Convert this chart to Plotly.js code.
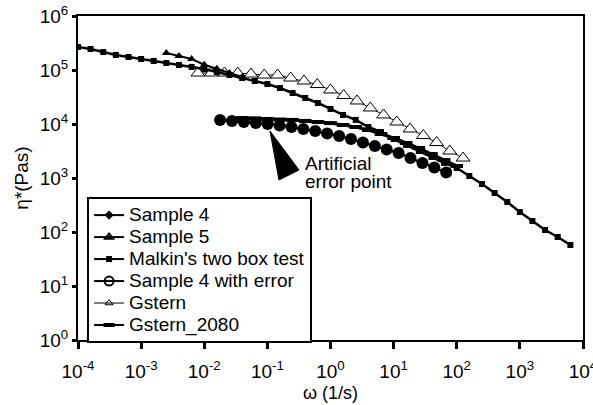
<!DOCTYPE html>
<html><head><meta charset="utf-8">
<script src="https://cdn.plot.ly/plotly-3.0.1.min.js"></script>
<style>html,body{margin:0;padding:0;background:#fff}#chart{width:593px;height:405px}</style>
</head><body><div id="chart"></div>
<script>
const FONT = 'Liberation Sans, Arial, Helvetica, sans-serif';

// Axis ticks
const xTickVals = [1e-4, 1e-3, 1e-2, 1e-1, 1, 1e1, 1e2, 1e3, 1e4];
const xTickText = ['10<sup>-4</sup>','10<sup>-3</sup>','10<sup>-2</sup>','10<sup>-1</sup>','10<sup>0</sup>','10<sup>1</sup>','10<sup>2</sup>','10<sup>3</sup>','10<sup>4</sup>'];
const yTickVals = [1, 1e1, 1e2, 1e3, 1e4, 1e5, 1e6];
const yTickText = ['10<sup>0</sup>','10<sup>1</sup>','10<sup>2</sup>','10<sup>3</sup>','10<sup>4</sup>','10<sup>5</sup>','10<sup>6</sup>'];

// Malkin's two box test
const malkinW = [0.0001,0.000158,0.000251,0.000398,0.000631,0.001,0.00158,0.00251,0.00398,0.00631,0.01,0.0158,0.0251,0.0398,0.0631,0.1,0.158,0.251,0.398,0.631,1,1.58,2.51,3.98,6.31,10,15.8,25.1,39.8,63.1,100,158,251,398,631,1000,1580,2510,3980,6310];
const malkinEta = [267000,245000,215000,190000,174000,160000,147000,135000,124000,114000,104000,91800,80800,71100,62500,55000,46400,37500,30300,24500,19000,14700,11900,8800,7110,5270,4080,3160,2450,1900,1530,1090,774,527,360,234,160,109,80.7,57.4];

// Sample 5
const s5W = [0.00251,0.00398,0.00631,0.01,0.0158,0.0251,0.0398];
const s5Eta = [207000,182000,160000,125000,105000,88000,74000];

// Gstern
const gsW = [0.00794,0.0129,0.0209,0.0339,0.055,0.0891,0.145,0.234,0.380,0.617,1.0,1.62,2.63,4.27,6.92,11.2,18.2,29.5,47.9,77.6,126];
const gsEta = [87900,87900,87900,87900,84300,80700,80700,71100,62500,53800,42700,33700,26700,19800,14700,10900,8080,6120,4540,3160,2340];

// Sample 4 with error
const s4eW = [0.0178,0.0275,0.0424,0.0655,0.101,0.156,0.241,0.372,0.574,0.885,1.37,2.11,3.26,5.04,7.76,12.0,18.5,28.6,44.2,68.1];
const s4eEta = [11860,11370,10890,10440,10000,9380,8790,8070,7410,6670,5990,5270,4540,3920,3370,2910,2340,1900,1560,1270];

// Sample 4
const s4W = [0.0178,0.0275,0.0424,0.0655,0.101,0.156,0.241,0.372,0.574,0.885,1.37,2.11,3.26,5.04,7.76,12.0,18.5,28.6,44.2,68.1];
const s4Eta = [11860,11370,10890,10440,10000,9650,8790,8070,7410,6670,5990,5270,4540,3920,3370,2910,2340,1900,1560,1270];

// Gstern_2080
const g2W = [0.0398,0.0631,0.1,0.158,0.251,0.398,0.631,1,1.58,2.51,3.98,6.31,10,15.8,25.1,39.8,63.1,100];
const g2Eta = [12900,12700,12400,12100,11900,11400,10900,10400,9580,8800,7740,6530,5510,4450,3590,2780,2150,1670];

const legendNames = ['Sample 4','Sample 5',"Malkin's two box test",'Sample 4 with error','Gstern','Gstern_2080'];

const blk = '#000';
const big = s => '<span style="font-size:19px">' + s + '</span>';
const traces = [
  {x: gsW, y: gsEta, mode:'lines+markers', showlegend:false,
   line:{color:blk, width:1}, marker:{symbol:'triangle-up', size:12, color:'#fff', line:{color:blk, width:1}}},
  {x: malkinW, y: malkinEta, mode:'lines+markers', showlegend:false,
   line:{color:blk, width:2.5}, marker:{symbol:'square', size:6, color:blk}},
  {x: s5W, y: s5Eta, mode:'lines+markers', showlegend:false,
   line:{color:blk, width:2}, marker:{symbol:'triangle-up', size:8, color:blk}},
  {x: s4W, y: s4Eta, mode:'lines+markers', showlegend:false,
   line:{color:blk, width:2}, marker:{symbol:'diamond', size:7, color:blk}},
  {x: s4eW, y: s4eEta, mode:'lines+markers', showlegend:false,
   line:{color:blk, width:2}, marker:{symbol:'circle', size:12, color:blk}},
  {x: g2W, y: g2Eta, mode:'lines+markers', showlegend:false,
   line:{color:blk, width:3}, marker:{symbol:'line-ew', size:9, color:blk, line:{color:blk, width:4}}},
  // legend entries
  {x:[null], y:[null], name: big(legendNames[0]), mode:'lines+markers', line:{color:blk,width:2}, marker:{symbol:'diamond', size:7, color:blk}},
  {x:[null], y:[null], name: big(legendNames[1]), mode:'lines+markers', line:{color:blk,width:2}, marker:{symbol:'triangle-up-open', size:7, color:blk, line:{width:2}}},
  {x:[null], y:[null], name: big(legendNames[2]), mode:'lines+markers', line:{color:blk,width:2}, marker:{symbol:'square', size:6, color:blk}},
  {x:[null], y:[null], name: big(legendNames[3]), mode:'lines+markers', line:{color:blk,width:2}, marker:{symbol:'circle-open', size:9, color:blk, line:{width:2}}},
  {x:[null], y:[null], name: big(legendNames[4]), mode:'lines+markers', line:{color:blk,width:1}, marker:{symbol:'triangle-up-open', size:7, color:blk, line:{width:1}}},
  {x:[null], y:[null], name: big(legendNames[5]), mode:'lines+markers', line:{color:blk,width:2}, marker:{symbol:'line-ew', size:8, color:blk, line:{color:blk, width:4}}}
];

const layout = {
  width:593, height:405,
  margin:{l:78, r:10, t:16, b:65},
  paper_bgcolor:'#fff', plot_bgcolor:'#fff',
  font:{family:FONT, color:blk, size:18},
  showlegend:true,
  xaxis:{type:'log', range:[-4,4], tickmode:'array', tickvals:xTickVals, ticktext:xTickText,
    ticks:'outside', ticklen:7, tickwidth:3, tickcolor:blk, showgrid:false, zeroline:false,
    showline:true, linecolor:blk, linewidth:2, mirror:true, tickfont:{size:19, family:FONT},
    ticklabelstandoff:6, ticklabeloverflow:'allow',
    title:{text:'ω (1/s)', font:{size:18, family:FONT}, standoff:6}},
  yaxis:{type:'log', range:[0,6], tickmode:'array', tickvals:yTickVals, ticktext:yTickText,
    ticks:'outside', ticklen:4, tickwidth:3, tickcolor:blk, showgrid:false, zeroline:false,
    showline:true, linecolor:blk, linewidth:2, mirror:true, tickfont:{size:19, family:FONT},
    ticklabeloverflow:'allow',
    title:{text:'η*(Pas)', font:{size:19, family:FONT}, standoff:6}},
  legend:{x:0.018, y:0.441, xanchor:'left', yanchor:'top', bgcolor:'#fff',
    bordercolor:blk, borderwidth:2, font:{size:14.6, family:FONT}, tracegroupgap:0},
  shapes:[{type:'path', xref:'paper', yref:'paper', layer:'above',
    path:'M 0.3802 0.6451 L 0.398 0.4938 L 0.4376 0.5247 Z', fillcolor:blk, line:{color:blk, width:1}}],
  annotations:[
    {xref:'paper', yref:'paper', x:0.4455, y:0.545, xanchor:'left', yanchor:'middle', showarrow:false,
     text:'Artificial', font:{size:19, family:FONT}},
    {xref:'paper', yref:'paper', x:0.4455, y:0.4895, xanchor:'left', yanchor:'middle', showarrow:false,
     text:'error point', font:{size:19, family:FONT}}
  ]
};

Plotly.newPlot('chart', traces, layout, {displayModeBar:false, staticPlot:true});
</script></body></html>
